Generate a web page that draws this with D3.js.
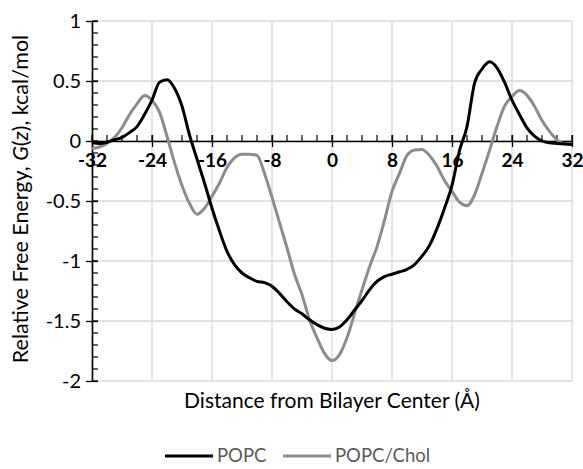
<!DOCTYPE html>
<html>
<head>
<meta charset="utf-8">
<script src="https://cdn.jsdelivr.net/npm/d3@7"></script>
<style>
  body { margin: 0; background: #fff; }
  svg { font-family: Lato, "Open Sans", sans-serif; }
</style>
</head>
<body>
<script>
// distance from bilayer center (Å), one point per Å
const zValues = d3.range(-32, 33);

// G(z) in kcal/mol
const popc = [
  -0.015, -0.02, -0.01, 0.01, 0.03, 0.07, 0.12, 0.22, 0.34, 0.49, 0.51, 0.44, 0.29, 0.05, -0.15, -0.35,
  -0.56, -0.75, -0.92, -1.03, -1.10, -1.14, -1.17, -1.18, -1.21, -1.27, -1.34, -1.40, -1.44, -1.49, -1.53, -1.56,
  -1.57,
  -1.55, -1.49, -1.41, -1.33, -1.24, -1.17, -1.13, -1.11, -1.09, -1.07, -1.03, -0.96, -0.87, -0.73, -0.56, -0.37,
  -0.08, 0.12, 0.48, 0.60, 0.66, 0.61, 0.49, 0.34, 0.22, 0.11, 0.04, 0.0, -0.015, -0.02, -0.025, -0.03
];

const popcChol = [
  -0.06, -0.05, -0.02, 0.03, 0.11, 0.22, 0.31, 0.38, 0.34, 0.24, 0.04, -0.18, -0.37, -0.52, -0.61, -0.56,
  -0.46, -0.35, -0.22, -0.14, -0.11, -0.11, -0.12, -0.27, -0.47, -0.68, -0.89, -1.11, -1.28, -1.49, -1.64, -1.77,
  -1.83,
  -1.78, -1.64, -1.44, -1.24, -1.05, -0.88, -0.66, -0.42, -0.27, -0.12, -0.075, -0.07, -0.12, -0.21, -0.33, -0.42,
  -0.51, -0.54, -0.45, -0.27, -0.08, 0.12, 0.29, 0.37, 0.42, 0.38, 0.29, 0.17, 0.08, 0.01, -0.02, -0.02
];

const xTicks = [-32, -24, -16, -8, 0, 8, 16, 24, 32];
const yTicks = [1, 0.5, 0, -0.5, -1, -1.5, -2];

const series = [
  { name: "POPC", values: popc, color: "#000000" },
  { name: "POPC/Chol", values: popcChol, color: "#8c8c8c" }
];

const width = 583, height = 469;
const margin = { top: 21, right: 11, bottom: 88, left: 92 };

const svg = d3.select("body").append("svg")
  .attr("width", width)
  .attr("height", height);

const x = d3.scaleLinear().domain([-32, 32]).range([margin.left, width - margin.right]);
const y = d3.scaleLinear().domain([-2, 1]).range([height - margin.bottom, margin.top]);

// gridlines
svg.append("g")
  .selectAll("line.vg")
  .data(xTicks)
  .join("line")
  .attr("x1", d => x(d)).attr("x2", d => x(d))
  .attr("y1", y(1)).attr("y2", y(-2))
  .attr("stroke", "#d9d9d9").attr("stroke-width", 1.3);

svg.append("g")
  .selectAll("line.hg")
  .data(yTicks)
  .join("line")
  .attr("x1", x(-32)).attr("x2", x(32))
  .attr("y1", d => y(d)).attr("y2", d => y(d))
  .attr("stroke", "#d9d9d9").attr("stroke-width", 1.3);

// y axis with minor ticks inside
const yMinor = d3.range(-2, 1.001, 0.1);
svg.append("g")
  .selectAll("line")
  .data(yMinor)
  .join("line")
  .attr("x1", x(-32)).attr("x2", x(-32) + 6)
  .attr("y1", d => y(d)).attr("y2", d => y(d))
  .attr("stroke", "#000").attr("stroke-width", 1.2);

const yAxis = svg.append("g")
  .attr("transform", `translate(${x(-32)},0)`)
  .call(d3.axisLeft(y).tickValues(yTicks).tickSize(6).tickSizeOuter(0).tickPadding(5)
    .tickFormat(d => String(d)));
yAxis.select(".domain").attr("stroke-width", 1.6);
yAxis.selectAll(".tick line").clone().attr("x2", 6);
yAxis.selectAll(".tick line").attr("stroke-width", 1.3);
yAxis.selectAll("text").attr("font-size", 20).attr("font-family", "Lato").attr("fill", "#000");

// x axis at y = 0, minor ticks above
const xMinor = d3.range(-32, 32.001, 2);
svg.append("g")
  .selectAll("line")
  .data(xMinor)
  .join("line")
  .attr("x1", d => x(d)).attr("x2", d => x(d))
  .attr("y1", y(0) - 6).attr("y2", y(0))
  .attr("stroke", "#000").attr("stroke-width", 1.2);

const xAxis = svg.append("g")
  .attr("transform", `translate(0,${y(0)})`)
  .call(d3.axisBottom(x).tickValues(xTicks).tickSize(6).tickSizeOuter(0).tickPadding(7)
    .tickFormat(d => String(d)));
xAxis.select(".domain").attr("stroke-width", 1.6);
xAxis.selectAll(".tick line").clone().attr("y2", -6);
xAxis.selectAll(".tick line").attr("stroke-width", 1.3);
xAxis.selectAll("text").attr("font-size", 19).attr("font-weight", "bold")
  .attr("font-family", "Lato").attr("fill", "#000");

// curves
const line = d3.line()
  .x((d, i) => x(zValues[i]))
  .y(d => y(d))
  .curve(d3.curveMonotoneX);

svg.append("g")
  .selectAll("path")
  .data(series.slice().reverse())
  .join("path")
  .attr("d", d => line(d.values))
  .attr("fill", "none")
  .attr("stroke", d => d.color)
  .attr("stroke-width", 3)
  .attr("stroke-linejoin", "round");

// axis titles
svg.append("text")
  .attr("x", (x(-32) + x(32)) / 2)
  .attr("y", 408)
  .attr("text-anchor", "middle")
  .attr("font-size", 21)
  .attr("fill", "#000")
  .text("Distance from Bilayer Center (Å)");

const yTitle = svg.append("text")
  .attr("transform", `translate(28,199) rotate(-90)`)
  .attr("text-anchor", "middle")
  .attr("font-size", 21.5)
  .attr("fill", "#000");
yTitle.append("tspan").text("Relative Free Energy, ");
yTitle.append("tspan").attr("font-style", "italic").text("G");
yTitle.append("tspan").text("(");
yTitle.append("tspan").attr("font-style", "italic").text("z");
yTitle.append("tspan").text("), kcal/mol");

// legend
const legendX = [165, 283];
const legend = svg.append("g")
  .selectAll("g")
  .data(series)
  .join("g")
  .attr("transform", (d, i) => `translate(${legendX[i]},456)`);
legend.append("line")
  .attr("x1", 0).attr("x2", 48)
  .attr("stroke", d => d.color).attr("stroke-width", 3);
legend.append("text")
  .attr("x", 52).attr("dy", "0.35em")
  .attr("font-size", 18.5)
  .attr("fill", "#595959")
  .text(d => d.name);
</script>
</body>
</html>
